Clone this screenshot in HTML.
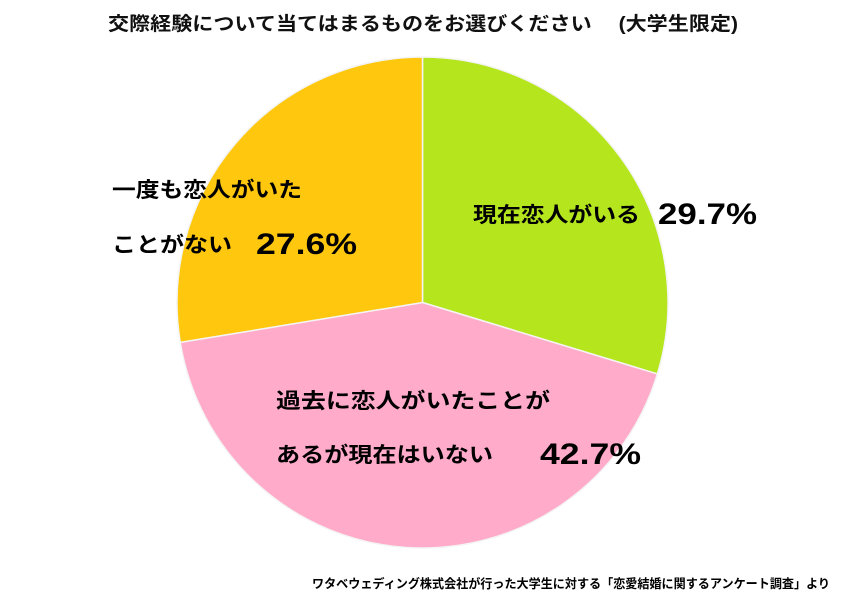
<!DOCTYPE html>
<html><head><meta charset="utf-8"><style>
body{margin:0;background:#fff;}
svg text{font-family:"Liberation Sans","Noto Sans CJK JP",sans-serif;}
</style></head><body>
<svg width="846" height="602" viewBox="0 0 846 602">
<text x="108" y="30" font-size="19" font-weight="bold" fill="#111" textLength="630" lengthAdjust="spacingAndGlyphs">交際経験について当てはまるものをお選びください　 (大学生限定)</text>
<g id="slices"></g>
<g font-weight="bold" fill="#000">
<text x="473" y="222" font-size="21" textLength="167" lengthAdjust="spacingAndGlyphs">現在恋人がいる</text>
<text x="658" y="224" font-size="30" textLength="99" lengthAdjust="spacingAndGlyphs">29.7%</text>
<text x="276" y="408" font-size="21" textLength="274" lengthAdjust="spacingAndGlyphs">過去に恋人がいたことが</text>
<text x="276" y="462" font-size="21" textLength="217" lengthAdjust="spacingAndGlyphs">あるが現在はいない</text>
<text x="540" y="464" font-size="30" textLength="101" lengthAdjust="spacingAndGlyphs">42.7%</text>
<text x="112" y="197" font-size="21" textLength="190" lengthAdjust="spacingAndGlyphs">一度も恋人がいた</text>
<text x="112" y="252" font-size="21" textLength="120" lengthAdjust="spacingAndGlyphs">ことがない</text>
<text x="256" y="254" font-size="30" textLength="101" lengthAdjust="spacingAndGlyphs">27.6%</text>
</g>
<text x="312" y="588" font-size="12.5" font-weight="bold" fill="#000" textLength="518" lengthAdjust="spacingAndGlyphs">ワタベウェディング株式会社が行った大学生に対する「恋愛結婚に関するアンケート調査」より</text>
</svg>
<script>
const categories=["現在恋人がいる","過去に恋人がいたことがあるが現在はいない","一度も恋人がいたことがない"];
const values=[29.7,42.7,27.6];
const colors=["#b5e51d","#ffabc9","#ffc80e"];
const cx=422.5,cy=302.5,r=245.5;
const g=document.getElementById('slices');
const total=values.reduce((a,b)=>a+b,0);
let a0=0;
values.forEach((v,i)=>{
  const a1=a0+v/total*2*Math.PI;
  const x0=cx+r*Math.sin(a0),y0=cy-r*Math.cos(a0);
  const x1=cx+r*Math.sin(a1),y1=cy-r*Math.cos(a1);
  const p=document.createElementNS('http://www.w3.org/2000/svg','path');
  p.setAttribute('d',`M${cx},${cy}L${x0},${y0}A${r},${r} 0 ${a1-a0>Math.PI?1:0} 1 ${x1},${y1}Z`);
  p.setAttribute('fill',colors[i]);
  p.setAttribute('stroke','#f4f4f4');
  p.setAttribute('stroke-width','1.5');
  
  
  g.appendChild(p);
  a0=a1;
});
</script>
</body></html>
